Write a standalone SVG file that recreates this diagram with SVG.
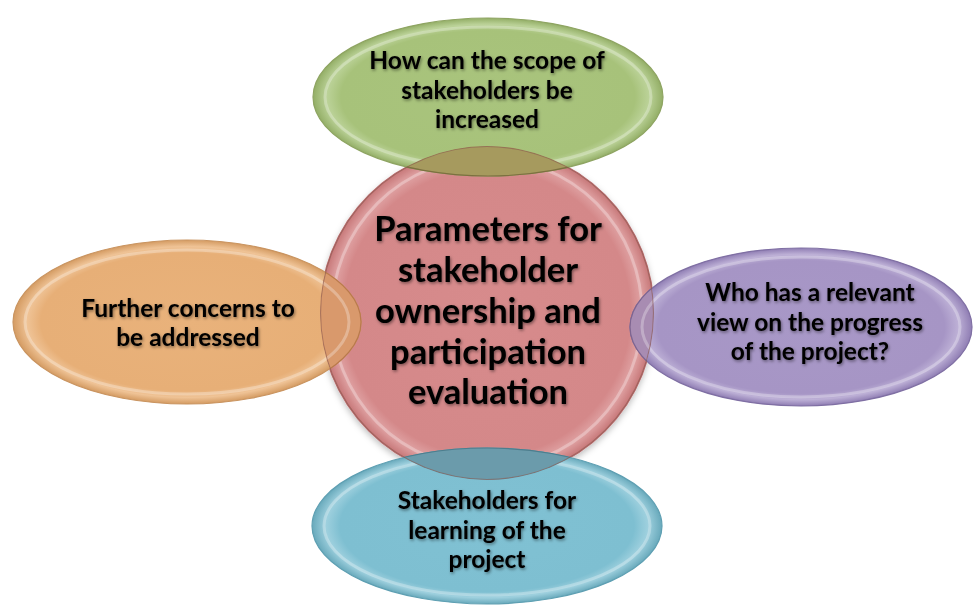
<svg xmlns="http://www.w3.org/2000/svg" width="973" height="614" viewBox="0 0 973 614">
<style>
  .lbl { font-family: Lato, "Liberation Sans", sans-serif; font-weight: 700; fill: #000; text-anchor: middle; filter: url(#tshadow); }
  .sm { font-size: 24.5px; }
  .big { font-size: 34.5px; }
  .hl { fill: none; stroke: #ffffff; stroke-opacity: 0.28; stroke-width: 3; }
</style>
<defs>
  <filter id="tshadow" x="-10%" y="-30%" width="120%" height="160%">
    <feDropShadow dx="1" dy="1.5" stdDeviation="1.5" flood-color="#000" flood-opacity="0.45"/>
  </filter>
  <filter id="shshadow" x="-10%" y="-10%" width="120%" height="130%">
    <feDropShadow dx="0" dy="3" stdDeviation="3" flood-color="#000" flood-opacity="0.25"/>
  </filter>
  <radialGradient id="gRed" cx="50%" cy="50%" r="50%">
    <stop offset="0" stop-color="#d78b8c"/><stop offset="0.86" stop-color="#d48889"/><stop offset="0.93" stop-color="#dfa1a2"/><stop offset="1" stop-color="#c67677"/>
  </radialGradient>
  <radialGradient id="gGreen" cx="50%" cy="50%" r="50%">
    <stop offset="0" stop-color="#a9c47d"/><stop offset="0.84" stop-color="#a7c27a"/><stop offset="0.92" stop-color="#bbd298"/><stop offset="1" stop-color="#93ae66"/>
  </radialGradient>
  <radialGradient id="gOrange" cx="50%" cy="50%" r="50%">
    <stop offset="0" stop-color="#e9b27b"/><stop offset="0.84" stop-color="#e7af77"/><stop offset="0.92" stop-color="#efc396"/><stop offset="1" stop-color="#d49b62"/>
  </radialGradient>
  <radialGradient id="gPurple" cx="50%" cy="50%" r="50%">
    <stop offset="0" stop-color="#a898c7"/><stop offset="0.84" stop-color="#a695c5"/><stop offset="0.92" stop-color="#bdb0d6"/><stop offset="1" stop-color="#8f7db3"/>
  </radialGradient>
  <radialGradient id="gBlue" cx="50%" cy="50%" r="50%">
    <stop offset="0" stop-color="#80c1d3"/><stop offset="0.84" stop-color="#7ebfd1"/><stop offset="0.92" stop-color="#9ed0de"/><stop offset="1" stop-color="#68a9bb"/>
  </radialGradient>
  <clipPath id="cRed"><circle cx="487" cy="313" r="167"/></clipPath>
</defs>

<g id="node-center">
  <circle cx="487" cy="313" r="167" fill="url(#gRed)" stroke="#b86a6c" stroke-width="1.2" filter="url(#shshadow)"/>
  <circle cx="487" cy="313" r="155" class="hl" stroke-opacity="0.18"/>
</g>

<g id="node-top">
  <ellipse cx="488" cy="97" rx="175" ry="79" fill="url(#gGreen)" stroke="#8ea462" stroke-width="1.2"/>
  <ellipse cx="488" cy="97" rx="163" ry="70" class="hl"/>
</g>
<g id="node-left">
  <ellipse cx="187" cy="322" rx="174" ry="82" fill="url(#gOrange)" stroke="#c99460" stroke-width="1.2"/>
  <ellipse cx="187" cy="322" rx="162" ry="72" class="hl"/>
</g>
<g id="node-right">
  <ellipse cx="801" cy="327" rx="171" ry="79" fill="url(#gPurple)" stroke="#7f6fa3" stroke-width="1.2"/>
  <ellipse cx="801" cy="327" rx="159" ry="70" class="hl"/>
</g>
<g id="node-bottom">
  <ellipse cx="487" cy="526" rx="175" ry="78" fill="url(#gBlue)" stroke="#5e9fb2" stroke-width="1.2"/>
  <ellipse cx="487" cy="526" rx="163" ry="69" class="hl"/>
</g>

<g id="overlaps" clip-path="url(#cRed)">
  <ellipse cx="488" cy="97" rx="175" ry="79" fill="#a69a5e" stroke="#7c7040" stroke-width="1.2"/>
  <ellipse cx="187" cy="322" rx="174" ry="82" fill="#d9996c" stroke="#b97a4c" stroke-width="1.2"/>
  <ellipse cx="187" cy="322" rx="162" ry="72" class="hl" stroke-opacity="0.22"/>
  <ellipse cx="801" cy="327" rx="171" ry="79" fill="#a88cb2" stroke="#7e6590" stroke-width="1.2"/>
  <ellipse cx="801" cy="327" rx="159" ry="70" class="hl" stroke-opacity="0.22"/>
  <ellipse cx="487" cy="526" rx="175" ry="78" fill="#6b9bab" stroke="#4d7d8d" stroke-width="1.2"/>
  <circle cx="487" cy="313" r="166.5" fill="none" stroke="#8a5a50" stroke-width="1.2" stroke-opacity="0.6"/>
</g>

<g id="labels">
  <text class="lbl big" x="488" y="241">Parameters for</text>
  <text class="lbl big" x="488" y="282">stakeholder</text>
  <text class="lbl big" x="488" y="323">ownership and</text>
  <text class="lbl big" x="488" y="364">participation</text>
  <text class="lbl big" x="488" y="404">evaluation</text>

  <text class="lbl sm" x="487" y="69">How can the scope of</text>
  <text class="lbl sm" x="487" y="99">stakeholders be</text>
  <text class="lbl sm" x="487" y="128">increased</text>

  <text class="lbl sm" x="188" y="317">Further concerns to</text>
  <text class="lbl sm" x="188" y="346">be addressed</text>

  <text class="lbl sm" x="810" y="301">Who has a relevant</text>
  <text class="lbl sm" x="810" y="331">view on the progress</text>
  <text class="lbl sm" x="810" y="360">of the project?</text>

  <text class="lbl sm" x="487" y="509">Stakeholders for</text>
  <text class="lbl sm" x="487" y="539">learning of the</text>
  <text class="lbl sm" x="487" y="568">project</text>
</g>
</svg>
